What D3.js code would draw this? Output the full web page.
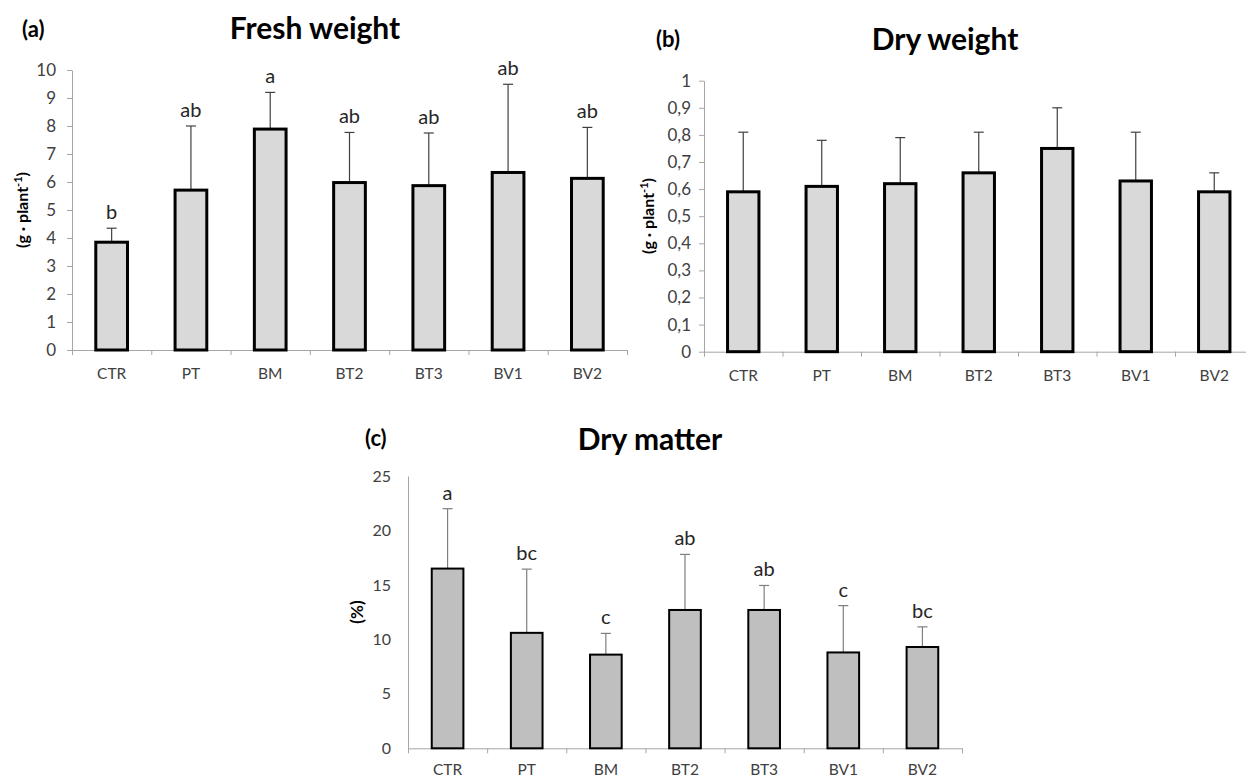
<!DOCTYPE html>
<html>
<head>
<meta charset="utf-8">
<script src="https://cdn.jsdelivr.net/npm/d3@7"></script>
<style>
  body { margin: 0; background: #fff; }
  text { font-family: Lato, "Open Sans", sans-serif; }
</style>
</head>
<body>
<svg id="chart" width="1246" height="778"></svg>
<script>
const categories = ["CTR", "PT", "BM", "BT2", "BT3", "BV1", "BV2"];

// (a) fresh weight, g/plant
const freshMean = [3.85, 5.71, 7.89, 5.98, 5.87, 6.34, 6.13];
const freshSd = [0.5, 2.29, 1.31, 1.79, 1.88, 3.15, 1.82];
const freshLetters = ["b", "ab", "a", "ab", "ab", "ab", "ab"];
const freshTicks = [0, 1, 2, 3, 4, 5, 6, 7, 8, 9, 10];

// (b) dry weight, g/plant
const dryMean = [0.59, 0.61, 0.62, 0.66, 0.75, 0.63, 0.59];
const drySd = [0.22, 0.17, 0.17, 0.15, 0.15, 0.18, 0.07];
const dryTicks = [0, 0.1, 0.2, 0.3, 0.4, 0.5, 0.6, 0.7, 0.8, 0.9, 1];

// (c) dry matter, %
const matterMean = [16.5, 10.6, 8.6, 12.7, 12.7, 8.8, 9.3];
const matterSd = [5.5, 5.85, 1.95, 5.1, 2.25, 4.3, 1.85];
const matterLetters = ["a", "bc", "c", "ab", "ab", "c", "bc"];
const matterTicks = [0, 5, 10, 15, 20, 25];

const svg = d3.select("#chart");

function drawPanel(p) {
  const g = svg.append("g");

  const x = d3.scaleBand()
    .domain(categories)
    .range([p.left, p.right])
    .paddingInner(0.6)
    .paddingOuter(0.3);
  const xEdge = d3.scaleLinear().domain([0, categories.length]).range([p.left, p.right]);
  const y = d3.scaleLinear().domain([0, p.max]).range([p.bottom, p.top]);

  // y axis
  const yAxis = g.append("g")
    .attr("transform", `translate(${p.left},0)`)
    .call(d3.axisLeft(y).tickValues(p.ticks).tickSize(p.yTick).tickSizeOuter(0)
      .tickPadding(p.yPad).tickFormat(p.fmt));
  yAxis.select(".domain").attr("stroke", "#a6a6a6");
  yAxis.selectAll(".tick line").attr("stroke", "#a6a6a6");
  yAxis.selectAll("text").attr("fill", "#404040").style("font-size", p.tickFont + "px");

  // x axis: boundary ticks
  const xAxis = g.append("g")
    .attr("transform", `translate(0,${p.bottom})`)
    .call(d3.axisBottom(xEdge).ticks(categories.length).tickSize(5).tickSizeOuter(0).tickFormat(""));
  xAxis.select(".domain").attr("stroke", "#a6a6a6");
  xAxis.selectAll(".tick line").attr("stroke", "#a6a6a6");

  // x axis: category labels
  const xLab = g.append("g")
    .attr("transform", `translate(0,${p.bottom})`)
    .call(d3.axisBottom(x).tickSize(0).tickPadding(p.xPad));
  xLab.select(".domain").remove();
  xLab.selectAll("text").attr("fill", "#404040").style("font-size", "15.5px");

  const rows = categories.map((c, i) => ({ c, m: p.mean[i], s: p.sd[i], l: p.letters ? p.letters[i] : "" }));

  // error bars (upper only)
  const eb = g.append("g").attr("stroke", p.errColor).attr("stroke-width", 1.2);
  eb.selectAll(".v").data(rows).enter().append("line")
    .attr("x1", d => x(d.c) + x.bandwidth() / 2)
    .attr("x2", d => x(d.c) + x.bandwidth() / 2)
    .attr("y1", d => y(d.m))
    .attr("y2", d => y(d.m + d.s));
  eb.selectAll(".h").data(rows).enter().append("line")
    .attr("x1", d => x(d.c) + x.bandwidth() / 2 - 5)
    .attr("x2", d => x(d.c) + x.bandwidth() / 2 + 5)
    .attr("y1", d => y(d.m + d.s))
    .attr("y2", d => y(d.m + d.s));

  // bars
  g.selectAll(".bar").data(rows).enter().append("rect")
    .attr("x", d => x(d.c))
    .attr("y", d => y(d.m))
    .attr("width", x.bandwidth())
    .attr("height", d => y(0) - y(d.m))
    .attr("fill", p.fill)
    .attr("stroke", "#000")
    .attr("stroke-width", p.barStroke);

  // significance letters
  if (p.letters) {
    g.selectAll(".let").data(rows).enter().append("text")
      .attr("x", d => x(d.c) + x.bandwidth() / 2)
      .attr("y", d => y(d.m + d.s) - 9)
      .attr("text-anchor", "middle")
      .attr("fill", "#262626")
      .style("font-size", "20px")
      .text(d => d.l);
  }

  // panel tag and title
  g.append("text")
    .attr("x", p.tag[0]).attr("y", p.tag[1])
    .style("font-size", "22px").style("font-weight", "bold")
    .text(p.tagText);
  g.append("text")
    .attr("x", p.title[0]).attr("y", p.title[1])
    .attr("text-anchor", "middle")
    .style("font-size", "30px").style("font-weight", "bold")
    .text(p.titleText);

  // y label
  const yl = g.append("text")
    .attr("transform", `translate(${p.ylab[0]},${p.ylab[1]}) rotate(-90)`)
    .attr("text-anchor", "middle")
    .style("font-size", p.ylabFont + "px").style("font-weight", "bold");
  if (p.unitSup) {
    yl.append("tspan").text("(g · plant");
    yl.append("tspan").attr("dy", -6).style("font-size", "11px").text("-1");
    yl.append("tspan").attr("dy", 6).text(")");
  } else {
    yl.text(p.ylabText);
  }
}

const commaFmt = d => (d === 0 || d === 1) ? String(d) : d.toFixed(1).replace(".", ",");

drawPanel({
  left: 72, right: 627, top: 70, bottom: 350, max: 10,
  ticks: freshTicks, fmt: d3.format("d"), yTick: 5, yPad: 11, tickFont: 17,
  mean: freshMean, sd: freshSd, letters: freshLetters,
  fill: "#d9d9d9", barStroke: 3, errColor: "#404040", xPad: 18,
  tag: [22, 37], tagText: "(a)", title: [315, 39], titleText: "Fresh weight",
  ylab: [28, 210], ylabFont: 16, unitSup: true
});

drawPanel({
  left: 704, right: 1253.5, top: 80.7, bottom: 351.7, max: 1,
  ticks: dryTicks, fmt: commaFmt, yTick: 5, yPad: 8, tickFont: 17,
  mean: dryMean, sd: drySd, letters: null,
  fill: "#d9d9d9", barStroke: 3, errColor: "#404040", xPad: 18,
  tag: [656, 47], tagText: "(b)", title: [945, 50], titleText: "Dry weight",
  ylab: [654, 216], ylabFont: 16, unitSup: true
});

drawPanel({
  left: 408, right: 962, top: 476, bottom: 748.3, max: 25,
  ticks: matterTicks, fmt: d3.format("d"), yTick: 0, yPad: 17, tickFont: 16,
  mean: matterMean, sd: matterSd, letters: matterLetters,
  fill: "#bfbfbf", barStroke: 2, errColor: "#7f7f7f", xPad: 16,
  tag: [365, 446], tagText: "(c)", title: [650, 450], titleText: "Dry matter",
  ylab: [363, 612], ylabFont: 17, unitSup: false, ylabText: "(%)"
});
</script>
</body>
</html>
